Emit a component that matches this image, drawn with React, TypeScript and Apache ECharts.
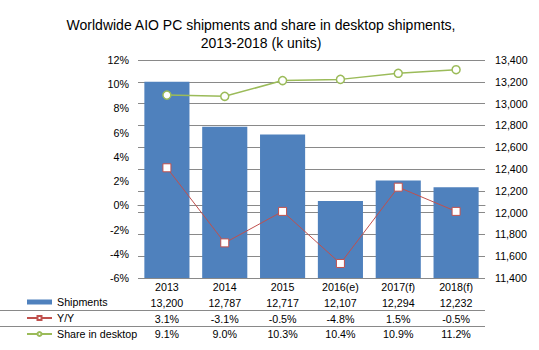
import React, { useEffect, useRef } from "react";
import * as echarts from "echarts";

const categories = ["2013", "2014", "2015", "2016(e)", "2017(f)", "2018(f)"];
const shipments = [13200, 12787, 12717, 12107, 12294, 12232];
const yoy = [3.1, -3.1, -0.5, -4.8, 1.5, -0.5];
const shareInDesktop = [9.1, 9.0, 10.3, 10.4, 10.9, 11.2];

const FONT = "'Liberation Sans', Arial, sans-serif";
const GRID_COLOR = "#898989";

const fmtPct = (v: number) => `${v.toFixed(1)}%`;
const fmtNum = (v: number) => v.toLocaleString("en-US");

export default function App() {
  const ref = useRef<HTMLDivElement>(null);

  useEffect(() => {
    document.body.style.margin = "0";
    if (!ref.current) return;
    const chart = echarts.init(ref.current, null, { renderer: "svg" });
    chart.setOption({
      animation: false,
      backgroundColor: "#ffffff",
      textStyle: { fontFamily: FONT },
      title: {
        text: "Worldwide AIO PC shipments and share in desktop shipments,\n2013-2018 (k units)",
        left: 256,
        top: 11,
        textAlign: "center",
        textStyle: {
          fontFamily: FONT,
          fontSize: 14,
          fontWeight: "normal",
          color: "#000",
          lineHeight: 18,
        },
      },
      legend: {
        orient: "vertical",
        left: 26,
        top: 294,
        padding: 0,
        itemGap: 0,
        itemWidth: 25,
        itemHeight: 5,
        selectedMode: false,
        textStyle: { fontFamily: FONT, fontSize: 10.7, color: "#000", lineHeight: 16 },
        data: [{ name: "Shipments", icon: "rect" }, { name: "Y/Y" }, { name: "Share in desktop" }],
      },
      grid: { left: 138, right: 54, top: 60, bottom: 72, containLabel: false },
      xAxis: {
        type: "category",
        data: categories,
        axisLine: { show: true, lineStyle: { color: GRID_COLOR, width: 1 } },
        axisTick: { show: false },
        axisLabel: {
          interval: 0,
          margin: 1,
          fontFamily: FONT,
          fontSize: 10.7,
          color: "#000",
          lineHeight: 15.8,
          formatter: (value: string, idx: number) =>
            [value, fmtNum(shipments[idx]), fmtPct(yoy[idx]), fmtPct(shareInDesktop[idx])].join("\n"),
        },
      },
      yAxis: [
        {
          type: "value",
          position: "left",
          min: -6,
          max: 12,
          interval: 2,
          axisLine: { show: false },
          axisTick: { show: false },
          splitLine: { show: false },
          axisLabel: {
            margin: 9,
            fontFamily: FONT,
            fontSize: 10.7,
            color: "#000",
            formatter: (v: number) => `${v}%`,
          },
        },
        {
          type: "value",
          position: "right",
          min: 11400,
          max: 13400,
          interval: 200,
          axisLine: { show: false },
          axisTick: { show: false },
          splitLine: { show: true, lineStyle: { color: GRID_COLOR, width: 1 } },
          axisLabel: {
            margin: 10,
            fontFamily: FONT,
            fontSize: 10.7,
            color: "#000",
            formatter: (v: number) => fmtNum(v),
          },
        },
      ],
      graphic: [
        { type: "line", shape: { x1: 0, y1: 310.5, x2: 485, y2: 310.5 }, style: { stroke: GRID_COLOR, lineWidth: 1 } },
        { type: "line", shape: { x1: 0, y1: 326.5, x2: 485, y2: 326.5 }, style: { stroke: GRID_COLOR, lineWidth: 1 } },
      ],
      series: [
        {
          name: "Shipments",
          type: "bar",
          yAxisIndex: 1,
          data: shipments,
          barCategoryGap: "22%",
          itemStyle: { color: "#4F81BD" },
        },
        {
          name: "Y/Y",
          type: "line",
          yAxisIndex: 0,
          data: yoy,
          symbol: "rect",
          symbolSize: 8,
          lineStyle: { color: "#C0504D", width: 1 },
          itemStyle: { color: "#ffffff", borderColor: "#C0504D", borderWidth: 1 },
        },
        {
          name: "Share in desktop",
          type: "line",
          yAxisIndex: 0,
          data: shareInDesktop,
          symbol: "circle",
          symbolSize: 8,
          lineStyle: { color: "#9BBB59", width: 1.5 },
          itemStyle: { color: "#ffffff", borderColor: "#9BBB59", borderWidth: 1.5 },
        },
      ],
    });
    return () => chart.dispose();
  }, []);

  return (
    <div
      ref={ref}
      style={{ position: "fixed", left: 0, top: 0, width: 539, height: 350, background: "#fff" }}
    />
  );
}
